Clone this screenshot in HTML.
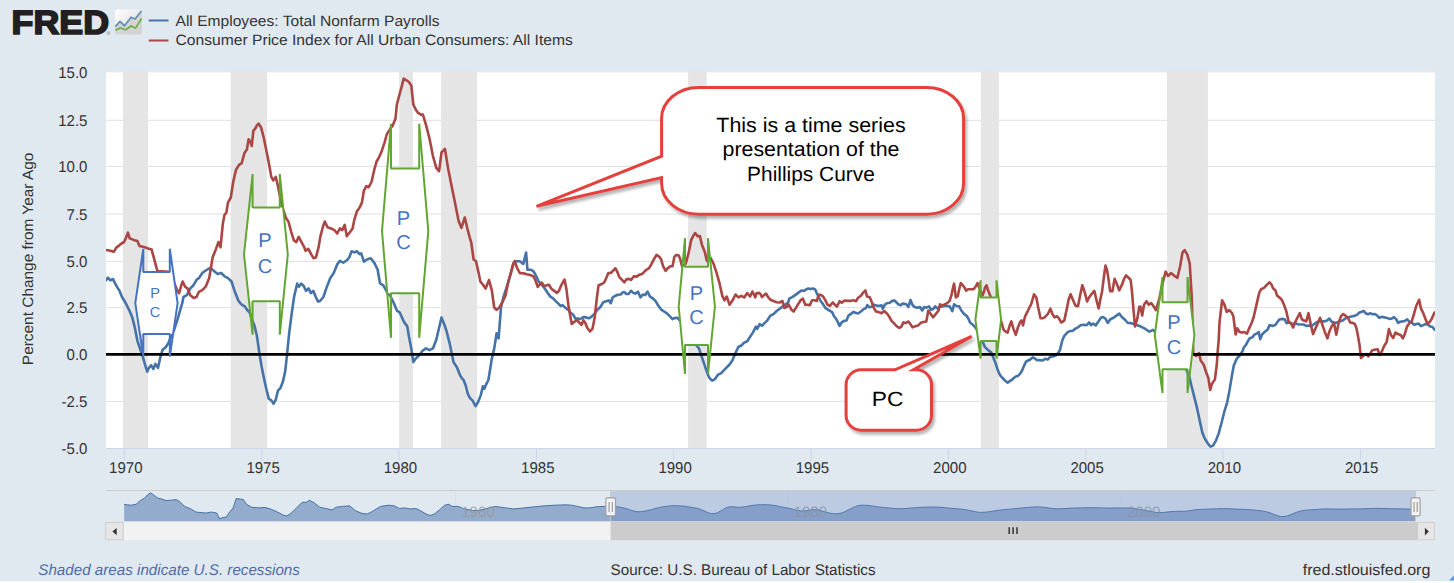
<!DOCTYPE html>
<html><head><meta charset="utf-8"><title>FRED graph</title>
<style>
html,body{margin:0;padding:0;background:#e1e9f0;}
body{width:1454px;height:583px;overflow:hidden;}
svg{display:block;}
text{font-family:"Liberation Sans",Arial,sans-serif;text-rendering:geometricPrecision;}
</style></head><body>
<svg width="1454" height="583" viewBox="0 0 1454 583">
<defs>
<clipPath id="plotclip"><rect x="106" y="71" width="1329" height="377"/></clipPath>
<linearGradient id="icong" x1="0" y1="0" x2="1" y2="1">
<stop offset="0" stop-color="#ffffff"/><stop offset="1" stop-color="#d4d4d4"/></linearGradient>
<filter id="shadow" x="-20%" y="-20%" width="140%" height="140%">
<feGaussianBlur in="SourceAlpha" stdDeviation="1.8"/>
<feOffset dx="1.5" dy="2.5" result="ob"/>
<feComponentTransfer><feFuncA type="linear" slope="0.3"/></feComponentTransfer>
<feMerge><feMergeNode/><feMergeNode in="SourceGraphic"/></feMerge>
</filter>
</defs>
<rect x="0" y="0" width="1454" height="583" fill="#e1e9f0"/>

<rect x="106" y="71" width="1329" height="377" fill="#ffffff"/>
<line x1="106" x2="1435" y1="71.8" y2="71.8" stroke="#e0e0e0" stroke-width="1"/>
<line x1="106" x2="1435" y1="120.3" y2="120.3" stroke="#e0e0e0" stroke-width="1"/>
<line x1="106" x2="1435" y1="166.4" y2="166.4" stroke="#e0e0e0" stroke-width="1"/>
<line x1="106" x2="1435" y1="214.0" y2="214.0" stroke="#e0e0e0" stroke-width="1"/>
<line x1="106" x2="1435" y1="261.4" y2="261.4" stroke="#e0e0e0" stroke-width="1"/>
<line x1="106" x2="1435" y1="307.6" y2="307.6" stroke="#e0e0e0" stroke-width="1"/>
<line x1="106" x2="1435" y1="401.4" y2="401.4" stroke="#e0e0e0" stroke-width="1"/>
<rect x="123.0" y="71" width="25.0" height="377" fill="#e5e5e5"/>
<rect x="230.7" y="71" width="36.3" height="377" fill="#e5e5e5"/>
<rect x="399.2" y="71" width="13.7" height="377" fill="#e5e5e5"/>
<rect x="441.0" y="71" width="36.0" height="377" fill="#e5e5e5"/>
<rect x="688.1" y="71" width="18.7" height="377" fill="#e5e5e5"/>
<rect x="981.0" y="71" width="18.0" height="377" fill="#e5e5e5"/>
<rect x="1167.0" y="71" width="40.9" height="377" fill="#e5e5e5"/>
<line x1="106" x2="1435" y1="448.5" y2="448.5" stroke="#ccd6eb" stroke-width="1"/>
<line x1="124.5" x2="124.5" y1="448" y2="460.6" stroke="#ccd6eb" stroke-width="1"/>
<line x1="261.8" x2="261.8" y1="448" y2="460.6" stroke="#ccd6eb" stroke-width="1"/>
<line x1="399.1" x2="399.1" y1="448" y2="460.6" stroke="#ccd6eb" stroke-width="1"/>
<line x1="536.5" x2="536.5" y1="448" y2="460.6" stroke="#ccd6eb" stroke-width="1"/>
<line x1="673.8" x2="673.8" y1="448" y2="460.6" stroke="#ccd6eb" stroke-width="1"/>
<line x1="811.1" x2="811.1" y1="448" y2="460.6" stroke="#ccd6eb" stroke-width="1"/>
<line x1="948.5" x2="948.5" y1="448" y2="460.6" stroke="#ccd6eb" stroke-width="1"/>
<line x1="1085.8" x2="1085.8" y1="448" y2="460.6" stroke="#ccd6eb" stroke-width="1"/>
<line x1="1223.1" x2="1223.1" y1="448" y2="460.6" stroke="#ccd6eb" stroke-width="1"/>
<line x1="1360.4" x2="1360.4" y1="448" y2="460.6" stroke="#ccd6eb" stroke-width="1"/>
<g clip-path="url(#plotclip)" fill="none" stroke-width="2.6" stroke-linejoin="round" stroke-linecap="round">
<polyline points="106.0,280.3 107.9,277.7 110.4,280.3 113.0,279.0 114.8,282.9 116.9,286.7 119.4,290.6 122.0,297.0 125.9,303.5 129.7,311.2 132.3,317.6 134.9,327.9 137.4,340.8 140.0,348.5 142.6,356.2 145.2,365.2 147.2,371.6 149.0,367.8 151.1,365.2 153.4,369.0 155.4,363.9 158.0,367.8 160.6,356.2 162.6,349.8 165.7,347.2 168.3,343.3 170.4,338.2 174.0,330.0 177.3,320.2 179.9,311.2 182.5,302.2 183.4,297.0 186.9,295.2 190.3,288.4 193.7,285.0 196.5,279.8 198.9,278.1 202.3,273.0 205.7,270.5 210.2,267.8 214.3,271.2 217.7,274.0 221.2,273.0 224.6,276.4 228.0,278.1 231.5,281.5 234.9,291.8 238.3,300.4 240.0,302.8 242.4,305.2 244.8,306.4 247.2,310.0 249.6,312.4 252.0,319.6 254.4,325.6 256.8,335.3 259.2,352.1 261.6,366.5 264.0,378.5 266.4,389.3 268.8,398.9 271.2,400.1 273.6,403.7 275.6,400.1 278.0,390.5 280.4,388.1 282.8,382.1 285.2,371.3 286.8,356.9 289.2,332.9 291.7,313.6 294.1,296.8 297.2,283.6 298.9,286.7 301.3,283.6 303.7,286.0 306.1,290.8 308.5,288.4 310.9,293.2 313.3,290.8 315.7,296.8 318.1,301.6 320.0,301.0 323.4,297.0 326.9,286.7 330.3,278.1 333.7,273.0 337.2,264.4 339.9,260.9 343.3,262.7 346.8,260.3 349.2,257.5 351.6,251.3 354.3,252.4 357.0,251.3 359.5,254.1 361.2,253.4 363.9,261.6 367.3,259.2 370.8,258.2 374.2,262.7 377.6,269.5 380.0,283.2 383.5,285.6 386.9,291.8 390.3,296.0 394.1,303.8 396.9,310.6 399.6,312.3 402.0,317.5 404.4,322.6 407.2,326.1 408.9,336.3 411.3,348.4 413.3,362.1 415.7,358.6 419.2,355.2 422.6,350.8 426.0,348.4 429.5,350.1 432.9,348.4 436.3,339.8 438.7,329.5 441.5,317.5 444.2,324.3 446.6,331.2 450.0,344.9 453.5,362.1 456.9,367.2 460.3,375.8 462.7,379.2 463.6,380.0 465.7,385.5 467.8,393.7 469.8,397.8 472.6,400.6 475.6,406.1 478.1,402.0 480.8,395.1 482.9,386.2 484.2,388.9 486.3,384.1 488.4,380.0 491.8,358.9 494.2,348.6 496.6,333.2 498.6,338.4 501.0,307.5 503.4,297.2 506.2,288.6 508.9,280.0 511.3,271.5 513.7,262.9 516.5,261.2 519.9,261.2 523.3,263.9 526.1,252.6 527.4,269.7 530.9,269.7 533.6,271.5 536.4,276.6 538.8,281.7 542.2,285.2 544.9,288.6 547.5,292.8 550.4,296.6 553.2,298.5 556.0,301.3 558.9,304.2 560.8,306.0 562.6,305.1 565.5,307.9 568.3,309.8 570.2,312.6 573.0,314.5 575.8,319.2 577.7,318.3 579.6,319.2 581.5,318.3 583.8,317.0 586.2,317.4 589.1,318.3 591.9,316.4 594.7,313.6 597.5,309.8 600.4,307.0 603.2,302.3 606.0,301.3 608.9,300.4 610.8,303.2 612.6,297.5 615.5,295.7 617.7,294.7 620.7,294.5 622.5,292.6 624.4,292.1 626.3,294.0 628.6,294.0 631.0,290.8 632.9,292.6 635.4,293.6 638.0,291.7 640.5,297.4 642.9,294.5 645.2,295.1 647.5,291.7 649.9,296.4 652.7,298.3 655.6,301.1 658.4,305.8 661.2,309.6 664.1,311.5 666.9,313.4 669.7,316.2 672.5,319.1 674.4,318.1 677.3,317.7 681.0,322.0 686.0,330.0 692.0,340.0 699.0,348.5 701.0,354.3 703.9,363.1 706.9,371.8 709.2,377.7 712.1,380.6 715.0,379.1 718.0,374.7 720.9,373.3 723.8,370.4 726.7,367.4 729.6,364.5 732.6,360.1 735.5,352.8 738.4,347.0 741.3,345.5 744.2,342.6 747.2,341.2 750.1,336.8 753.0,332.4 755.9,326.6 757.3,328.8 759.6,324.1 761.9,325.7 764.3,323.4 767.4,320.3 770.4,315.6 773.5,314.1 776.6,311.0 779.7,308.7 782.8,306.4 785.9,304.1 788.2,302.5 789.3,298.6 792.1,297.1 795.2,295.1 798.2,292.9 801.3,290.5 804.1,290.9 806.0,289.4 808.3,288.6 810.6,289.1 812.9,288.6 815.2,289.4 816.8,293.2 818.3,296.3 820.6,301.0 823.0,304.1 825.3,307.9 827.6,309.5 830.0,310.8 832.1,312.1 834.1,316.3 836.2,319.0 838.0,322.4 839.6,325.9 841.7,322.4 843.7,321.1 846.5,320.4 848.5,315.6 850.6,314.2 853.3,311.9 855.4,312.8 858.1,313.5 860.9,311.5 863.6,309.1 865.7,308.3 867.3,305.0 869.1,307.3 871.9,306.7 873.9,304.6 876.7,305.6 879.4,306.0 881.5,305.3 882.8,308.7 884.9,304.6 886.9,303.2 889.7,302.8 892.4,300.9 894.5,300.5 896.6,302.5 898.6,304.6 900.7,305.3 902.7,303.6 904.8,303.9 906.4,304.3 908.4,307.0 910.5,299.9 912.5,305.0 914.6,307.0 917.4,307.7 920.1,307.0 922.2,310.5 924.2,307.0 926.3,307.7 929.0,306.4 931.1,309.8 933.1,309.1 935.2,306.4 937.2,308.4 939.3,307.0 942.1,306.4 944.8,306.0 947.5,306.0 949.6,306.4 951.0,308.4 952.3,311.2 954.1,304.3 956.5,306.0 959.2,306.4 961.3,310.5 964.0,313.9 966.8,316.0 968.8,319.4 970.2,322.8 972.2,324.2 974.3,326.3 976.4,329.0 980.0,336.0 985.0,347.1 988.1,350.2 991.2,352.3 993.2,357.4 995.3,362.5 997.3,368.7 999.4,373.9 1001.5,376.9 1003.5,379.0 1005.6,381.1 1007.6,382.7 1009.7,381.1 1011.7,380.0 1013.8,378.0 1015.8,376.5 1017.9,375.9 1020.0,373.9 1022.0,370.8 1024.1,365.6 1026.1,361.5 1028.2,360.5 1030.2,359.5 1032.7,357.4 1034.8,358.4 1036.8,360.1 1039.5,360.1 1042.6,360.5 1045.1,358.8 1047.7,359.5 1050.4,356.8 1052.9,356.4 1056.0,355.3 1058.6,352.3 1060.0,350.0 1062.1,341.0 1064.3,335.8 1067.7,332.1 1070.3,331.0 1072.9,330.7 1075.5,328.6 1078.0,327.3 1080.6,325.2 1083.2,324.7 1086.6,325.2 1089.2,322.4 1090.9,325.2 1093.0,323.5 1095.7,325.5 1098.1,322.1 1100.9,317.8 1102.9,317.0 1105.5,318.7 1107.7,323.0 1110.1,319.5 1113.2,317.8 1115.8,316.1 1119.2,313.5 1121.8,317.0 1125.2,320.0 1127.8,323.0 1130.4,323.0 1133.0,323.8 1135.5,324.7 1140.4,326.3 1145.8,329.2 1149.4,331.7 1153.0,329.9 1155.9,332.8 1165.0,340.0 1175.0,350.0 1183.0,362.0 1189.4,376.8 1191.3,385.3 1194.2,396.6 1197.0,407.9 1199.8,421.1 1202.3,432.5 1204.5,438.1 1207.4,442.8 1210.2,446.6 1213.0,445.7 1215.8,440.9 1218.7,433.4 1221.5,423.0 1224.3,411.7 1227.2,402.3 1229.4,390.9 1231.9,375.8 1233.8,365.5 1236.6,358.9 1240.0,355.1 1242.3,351.5 1244.2,346.8 1246.0,344.9 1247.9,341.1 1249.8,338.3 1252.3,337.4 1254.5,334.5 1256.8,333.6 1258.7,332.1 1260.2,339.2 1262.1,334.5 1264.9,331.7 1267.7,329.4 1269.6,325.1 1272.5,326.0 1275.3,325.1 1277.2,322.3 1279.4,319.4 1281.9,318.9 1284.7,319.4 1286.6,323.2 1289.4,322.3 1292.3,324.2 1295.1,323.2 1297.9,324.2 1300.8,324.5 1303.9,324.5 1306.2,326.0 1308.5,325.6 1310.8,326.3 1313.1,324.8 1315.4,323.2 1317.8,321.7 1320.1,320.9 1322.4,321.4 1324.7,321.4 1327.0,320.5 1329.3,318.6 1331.7,321.7 1334.0,322.5 1336.3,322.9 1338.6,321.7 1340.9,320.9 1343.2,320.2 1345.6,318.3 1347.9,317.4 1350.2,316.8 1352.5,316.3 1354.8,315.8 1357.1,314.7 1359.5,312.4 1361.8,311.7 1363.6,310.9 1365.6,313.2 1368.0,314.3 1370.3,313.2 1372.6,314.3 1374.9,314.0 1377.2,315.5 1379.3,317.9 1381.6,316.8 1384.7,317.4 1387.0,317.9 1389.3,318.9 1391.6,318.6 1394.0,317.1 1396.3,319.4 1398.1,323.0 1400.1,321.7 1402.5,321.4 1404.8,321.0 1407.1,319.4 1409.4,321.7 1411.7,322.5 1414.0,324.8 1416.4,324.0 1418.7,323.6 1421.0,326.1 1423.3,325.1 1425.6,324.0 1428.0,324.8 1430.3,326.4 1432.6,327.1 1434.6,329.8" stroke="#4572a7"/>
<polyline points="106.0,250.0 110.4,250.7 113.8,251.8 116.3,247.6 118.9,245.6 121.5,243.5 124.1,242.0 125.9,237.9 127.9,232.7 129.7,238.4 133.6,239.9 137.4,241.0 139.5,246.1 143.9,247.1 149.0,248.7 151.6,249.4 155.4,263.6 157.5,271.3 162.6,271.3 168.3,271.8 172.0,278.0 175.0,285.0 177.3,290.6 179.1,293.2 181.2,285.5 182.7,281.5 185.1,286.7 187.5,288.4 190.3,295.2 193.7,298.0 196.5,297.0 198.9,291.8 202.3,290.1 205.7,286.7 209.2,278.1 212.6,257.5 216.0,248.9 218.4,242.1 220.5,247.2 222.9,223.2 224.6,214.6 226.3,212.9 228.0,202.6 230.8,197.5 233.2,182.0 235.9,170.0 239.0,164.9 241.7,163.2 244.5,152.9 246.9,149.5 248.6,139.2 250.7,142.6 251.7,146.0 253.4,130.6 255.1,128.9 256.9,125.4 258.6,123.7 261.0,127.2 263.7,137.4 266.5,151.2 268.9,163.2 271.3,176.9 273.3,180.3 275.7,176.9 277.4,183.8 280.2,197.5 282.6,207.8 286.0,218.1 288.4,221.5 291.2,231.8 293.9,240.4 296.3,242.1 298.7,236.9 301.5,242.1 304.2,247.2 305.6,250.7 308.3,248.9 311.1,254.1 313.5,258.2 315.9,257.5 318.6,247.2 320.3,236.9 322.7,227.5 324.8,221.5 327.5,227.3 331.0,228.4 334.4,230.1 337.2,233.5 339.9,228.4 342.3,230.1 344.7,224.9 346.8,236.2 350.2,231.8 352.6,228.4 354.3,219.8 357.0,211.2 359.5,207.8 361.9,202.6 363.9,190.6 366.3,186.2 368.7,187.2 371.5,182.0 374.2,170.0 376.6,161.5 379.0,157.3 381.7,151.2 384.5,142.6 386.9,134.0 390.3,128.9 392.7,125.4 395.5,118.6 396.9,104.3 399.6,94.0 402.0,85.4 403.7,78.6 406.5,80.3 408.9,82.0 411.3,85.4 413.3,104.3 415.7,109.5 418.1,112.9 420.9,114.6 422.9,114.6 426.0,124.9 429.5,138.6 432.9,155.8 436.3,167.8 439.1,171.2 441.5,152.3 444.9,148.9 448.3,169.5 451.7,186.6 455.2,203.8 458.6,220.9 461.4,227.8 464.8,217.5 467.2,227.8 469.9,238.1 471.2,242.3 473.6,259.5 476.0,261.2 478.7,273.2 480.4,281.7 482.8,284.5 485.6,288.6 489.0,280.0 491.8,290.3 494.2,307.5 496.6,309.9 499.3,307.5 502.7,301.6 505.5,295.5 507.9,283.5 510.3,274.9 513.0,264.6 514.7,261.2 517.1,268.0 519.9,273.2 523.3,273.2 526.7,274.2 530.2,274.9 533.6,276.6 535.3,280.0 537.7,286.9 540.5,283.5 541.9,282.5 543.8,286.2 546.6,285.3 549.1,284.9 551.3,288.7 554.2,290.9 557.0,292.8 558.9,290.9 561.7,284.3 564.5,279.6 566.4,289.1 568.3,304.2 570.2,315.5 571.7,324.0 574.0,322.1 576.8,320.2 579.6,323.0 581.5,324.9 583.4,320.2 585.3,323.0 587.2,327.7 590.0,331.5 592.5,328.7 594.7,317.4 596.6,300.4 598.5,285.3 601.3,284.3 604.2,282.5 606.4,277.7 608.3,273.0 610.8,273.0 612.6,271.1 615.5,268.3 617.4,272.1 619.2,276.8 621.6,279.4 624.4,282.3 626.3,279.4 629.2,278.9 631.0,280.0 633.9,276.2 636.7,276.6 639.5,274.7 642.4,273.8 644.2,271.9 646.1,270.0 649.0,268.1 650.8,265.3 653.7,259.6 656.5,254.9 659.3,256.8 661.2,259.6 663.1,266.2 665.6,270.9 667.8,268.1 670.7,266.2 672.5,266.2 674.4,256.8 676.3,254.9 678.8,255.5 680.1,258.7 682.0,266.2 685.8,263.8 688.8,252.1 691.1,240.4 693.1,236.1 695.2,233.1 697.5,236.1 699.9,236.1 701.9,244.8 704.8,252.1 706.9,260.9 710.7,258.0 713.6,263.8 716.5,272.6 719.4,282.8 722.3,295.9 724.4,300.3 726.7,296.5 729.6,304.7 732.6,300.3 735.5,294.5 738.4,297.4 741.3,295.9 744.2,297.4 747.2,293.0 750.1,296.5 752.4,291.5 755.3,297.4 756.5,293.2 758.9,292.9 760.4,294.0 762.0,297.1 764.3,294.8 766.1,293.6 768.1,297.1 770.4,299.7 773.5,301.0 776.6,302.2 779.7,302.5 782.5,301.0 784.3,307.9 786.7,307.1 788.2,304.1 789.7,306.4 791.3,309.5 793.6,311.5 795.9,307.9 798.2,304.1 800.6,300.2 802.9,298.6 805.2,304.8 807.5,304.8 809.8,305.3 812.1,300.2 814.5,300.2 816.8,301.0 818.6,294.8 820.6,294.8 823.0,296.3 825.3,300.2 827.6,304.8 829.9,305.9 832.7,302.5 836.9,306.7 839.6,301.2 841.7,302.8 844.4,300.5 847.8,300.9 851.3,300.9 853.3,300.1 856.1,301.2 858.1,297.7 860.9,295.7 862.9,292.9 865.4,290.5 867.0,296.4 869.8,297.3 871.9,302.5 873.9,308.0 876.0,311.5 878.7,312.1 881.5,313.2 884.2,311.0 886.9,313.5 889.0,316.3 891.7,321.1 894.5,323.8 897.2,326.6 899.3,327.9 901.4,326.6 903.4,322.4 905.5,323.1 908.4,321.5 910.5,324.2 912.5,327.4 915.3,326.3 918.0,325.6 920.8,322.8 923.5,322.1 926.3,321.5 928.3,310.5 930.4,313.6 933.1,317.3 935.9,313.9 938.6,310.5 940.0,304.3 942.1,305.7 944.8,304.3 947.5,302.9 949.6,300.9 951.4,295.4 952.8,288.5 954.1,283.7 955.8,297.4 957.8,296.1 959.2,289.2 960.8,283.0 962.6,285.1 964.7,287.8 966.1,290.6 968.1,289.2 970.9,289.2 973.6,289.2 975.7,286.5 977.5,283.0 979.1,287.2 982.5,295.4 983.9,292.0 985.0,287.5 986.6,285.4 988.1,290.6 992.0,300.0 996.0,310.0 1001.5,322.4 1003.5,329.6 1005.6,331.7 1007.6,332.7 1009.7,325.5 1011.3,321.4 1013.4,328.6 1015.8,334.8 1017.9,327.6 1020.0,322.4 1021.6,320.4 1023.0,325.5 1025.1,316.3 1027.2,312.2 1029.2,308.0 1031.3,303.9 1034.0,294.3 1036.4,297.8 1038.1,307.0 1040.5,318.3 1042.6,318.3 1044.6,317.3 1047.7,314.2 1050.4,308.7 1052.5,314.2 1054.5,317.3 1057.0,316.3 1059.0,318.3 1061.1,322.4 1062.1,322.1 1064.3,320.4 1066.9,308.4 1068.6,299.8 1070.6,294.3 1072.9,299.8 1075.5,305.8 1078.0,306.3 1080.3,294.6 1082.3,285.2 1084.9,292.9 1087.1,301.5 1089.2,297.2 1091.8,293.8 1094.3,290.9 1096.4,299.8 1098.6,308.4 1100.3,299.8 1102.1,291.2 1103.8,277.5 1105.5,265.5 1107.2,270.6 1108.9,281.8 1110.1,291.2 1112.4,291.2 1114.6,278.8 1116.7,283.5 1119.2,290.3 1121.8,285.2 1123.9,279.2 1126.1,275.4 1128.3,277.5 1130.7,280.0 1132.1,292.9 1133.5,310.1 1135.0,326.4 1137.3,318.7 1139.3,306.7 1140.4,306.5 1142.2,315.5 1144.0,304.7 1146.5,301.2 1148.7,304.7 1151.2,303.0 1153.7,306.5 1155.9,310.1 1159.0,300.0 1163.1,281.4 1165.6,271.7 1168.1,276.0 1171.0,273.1 1174.6,276.0 1177.4,277.8 1180.0,267.0 1182.5,252.6 1184.6,250.1 1187.2,254.4 1189.7,263.4 1191.8,297.6 1193.2,353.2 1196.0,356.0 1198.9,353.2 1200.8,360.8 1203.6,364.5 1206.4,373.0 1208.3,377.7 1210.2,390.0 1212.1,383.4 1214.9,379.6 1216.8,364.5 1217.7,351.3 1218.7,340.0 1219.5,322.7 1222.1,300.4 1224.2,304.0 1226.7,311.9 1229.2,310.1 1231.9,312.8 1233.4,316.6 1234.7,327.0 1235.7,334.5 1237.2,328.3 1239.4,331.7 1241.7,332.6 1244.2,332.1 1247.0,333.6 1248.9,328.9 1251.1,324.2 1253.6,317.5 1255.5,309.1 1257.4,300.6 1259.2,293.0 1261.1,289.2 1264.0,287.9 1266.8,284.9 1269.6,282.3 1271.5,284.5 1273.0,288.3 1275.3,290.2 1277.2,295.8 1279.4,297.4 1281.9,300.0 1283.8,304.3 1286.2,310.9 1288.5,321.3 1290.8,323.2 1293.2,327.5 1295.1,322.3 1297.5,317.5 1299.8,313.2 1301.9,319.4 1303.9,320.5 1306.2,321.4 1308.5,313.2 1310.8,324.8 1313.1,334.1 1315.4,328.6 1317.8,323.2 1320.1,317.8 1322.4,324.8 1324.7,331.7 1327.5,338.4 1329.3,331.7 1331.7,326.3 1334.0,322.9 1336.3,334.8 1338.6,323.2 1340.9,316.3 1343.2,314.0 1345.6,315.8 1347.9,317.8 1350.2,322.5 1352.5,322.9 1354.8,324.0 1356.4,327.9 1357.9,335.6 1359.5,344.9 1361.0,358.0 1362.5,356.4 1364.6,354.9 1366.4,354.1 1368.3,356.4 1370.3,353.4 1372.3,350.3 1374.6,349.8 1377.7,349.2 1379.6,355.0 1381.6,351.9 1383.9,346.5 1386.7,341.8 1388.9,329.1 1390.9,334.9 1393.2,338.0 1395.5,332.5 1397.8,334.1 1400.6,334.9 1402.8,338.4 1404.8,334.1 1407.1,326.4 1409.4,323.0 1411.7,321.4 1413.7,314.8 1416.1,306.3 1419.1,299.8 1421.0,308.6 1423.3,313.2 1425.6,319.4 1427.5,323.6 1430.0,321.7 1431.8,318.6 1434.5,312.5" stroke="#aa4643"/>
</g>
<line x1="106" x2="1435" y1="354.4" y2="354.4" stroke="#000000" stroke-width="2.6"/>
<path d="M139.9,272 L173.1,272 L177.6,303.2 L173.1,334 L139.9,334 L135.3,303.2 Z" fill="#ffffff"/><path d="M143.3,248.8 L143.3,272 L169.8,272 L169.8,248.8 L177.6,303.2 L169.8,356.5 L169.8,334 L143.3,334 L143.3,356.5 L135.3,303.2 Z" fill="none" stroke="#4472c4" stroke-width="2" stroke-linejoin="miter" stroke-miterlimit="1"/>
<path d="M249.0,207.6 L283.1,207.6 L287.8,254.5 L283.1,301.3 L249.0,301.3 L244.0,254.5 Z" fill="#ffffff"/><path d="M252.6,174 L252.6,207.6 L279.8,207.6 L279.8,174 L287.8,254.5 L279.8,334.7 L279.8,301.3 L252.6,301.3 L252.6,334.7 L244.0,254.5 Z" fill="none" stroke="#62a632" stroke-width="2" stroke-linejoin="miter" stroke-miterlimit="1"/>
<path d="M387.3,168.4 L423.0,168.4 L428.3,231.0 L423.0,293.2 L387.2,293.2 L382.0,231.0 Z" fill="#ffffff"/><path d="M391.0,123.8 L391.0,168.4 L419.2,168.4 L419.2,123.8 L428.3,231.0 L419.2,337.8 L419.2,293.2 L391.0,293.2 L391.0,337.8 L382.0,231.0 Z" fill="none" stroke="#62a632" stroke-width="2" stroke-linejoin="miter" stroke-miterlimit="1"/>
<path d="M682.4,266.7 L710.9,266.7 L714.9,306.5 L711.0,345.1 L682.3,345.1 L678.7,306.5 Z" fill="#ffffff"/><path d="M685.0,238.2 L685.0,266.7 L708.0,266.7 L708.0,238.2 L714.9,306.5 L708.0,374.0 L708.0,345.1 L685.0,345.1 L685.0,374.0 L678.7,306.5 Z" fill="none" stroke="#62a632" stroke-width="2" stroke-linejoin="miter" stroke-miterlimit="1"/>
<path d="M978.3,297.4 L998.5,297.4 L1001.1,319.7 L998.6,341.1 L978.3,341.1 L975.4,319.7 Z" fill="#ffffff"/><path d="M980.6,280.3 L980.6,297.4 L996.5,297.4 L996.5,280.3 L1001.1,319.7 L996.5,358.6 L996.5,341.1 L980.6,341.1 L980.6,358.6 L975.4,319.7 Z" fill="none" stroke="#62a632" stroke-width="2" stroke-linejoin="miter" stroke-miterlimit="1"/>
<path d="M1159.1,302.3 L1190.5,302.3 L1194.4,335.0 L1190.3,369.2 L1159.3,369.2 L1154.8,335.0 Z" fill="#ffffff"/><path d="M1162.5,277.0 L1162.5,302.3 L1187.5,302.3 L1187.5,277.0 L1194.4,335.0 L1187.5,393.0 L1187.5,369.2 L1162.5,369.2 L1162.5,393.0 L1154.8,335.0 Z" fill="none" stroke="#62a632" stroke-width="2" stroke-linejoin="miter" stroke-miterlimit="1"/>
<text x="155.0" y="298.2" font-size="14.5" fill="#4472c4" text-anchor="middle">P</text><text x="155.0" y="317.0" font-size="14.5" fill="#4472c4" text-anchor="middle">C</text>
<text x="265.0" y="247.0" font-size="20" fill="#4472c4" text-anchor="middle">P</text><text x="265.0" y="272.5" font-size="20" fill="#4472c4" text-anchor="middle">C</text>
<text x="403.5" y="224.5" font-size="20" fill="#4472c4" text-anchor="middle">P</text><text x="403.5" y="249.4" font-size="20" fill="#4472c4" text-anchor="middle">C</text>
<text x="696.5" y="299.6" font-size="20" fill="#4472c4" text-anchor="middle">P</text><text x="696.5" y="324.3" font-size="20" fill="#4472c4" text-anchor="middle">C</text>
<text x="1174.0" y="328.5" font-size="20" fill="#4472c4" text-anchor="middle">P</text><text x="1174.0" y="353.5" font-size="20" fill="#4472c4" text-anchor="middle">C</text>
<path d="M698.6,87.4 L926.6,87.4 A37,31 0 0 1 963.6,118.4 L963.6,183.3 A37,31 0 0 1 926.6,214.3 L698.6,214.3 A37,31 0 0 1 661.6,183.3 L661.6,177.6 L536.5,206.3 L661.6,156.2 L661.6,118.4 A37,31 0 0 1 698.6,87.4 Z" fill="#ffffff" stroke="#e4403c" stroke-width="3" stroke-linejoin="miter" filter="url(#shadow)"/><text x="811.0" y="131.6" font-size="20.6" fill="#000" text-anchor="middle" textLength="189.3" lengthAdjust="spacingAndGlyphs">This is a time series</text><text x="811.0" y="155.9" font-size="20.6" fill="#000" text-anchor="middle" textLength="176.9" lengthAdjust="spacingAndGlyphs">presentation of the</text><text x="811.0" y="180.6" font-size="20.6" fill="#000" text-anchor="middle" textLength="127.8" lengthAdjust="spacingAndGlyphs">Phillips Curve</text>
<path d="M861.1,369.8 L894.9,369.8 L971.7,336.5 L913.4,369.8 L916.5,369.8 A15,15 0 0 1 931.5,384.8 L931.5,415.2 A15,15 0 0 1 916.5,430.2 L861.1,430.2 A15,15 0 0 1 846.1,415.2 L846.1,384.8 A15,15 0 0 1 861.1,369.8 Z" fill="#ffffff" stroke="#e4403c" stroke-width="3" stroke-linejoin="miter" filter="url(#shadow)"/><text x="887.6" y="405.5" font-size="20.6" fill="#000" text-anchor="middle" textLength="31.6" lengthAdjust="spacingAndGlyphs">PC</text>
<text transform="translate(87.4,77.8) scale(0.9615,1)" font-size="15.6" fill="#333333" text-anchor="end">15.0</text>
<text transform="translate(87.4,125.8) scale(0.9615,1)" font-size="15.6" fill="#333333" text-anchor="end">12.5</text>
<text transform="translate(87.4,171.9) scale(0.9615,1)" font-size="15.6" fill="#333333" text-anchor="end">10.0</text>
<text transform="translate(87.4,219.5) scale(0.9615,1)" font-size="15.6" fill="#333333" text-anchor="end">7.5</text>
<text transform="translate(87.4,266.9) scale(0.9615,1)" font-size="15.6" fill="#333333" text-anchor="end">5.0</text>
<text transform="translate(87.4,313.1) scale(0.9615,1)" font-size="15.6" fill="#333333" text-anchor="end">2.5</text>
<text transform="translate(87.4,359.9) scale(0.9615,1)" font-size="15.6" fill="#333333" text-anchor="end">0.0</text>
<text transform="translate(87.4,406.9) scale(0.9615,1)" font-size="15.6" fill="#333333" text-anchor="end">-2.5</text>
<text transform="translate(87.4,453.8) scale(0.9615,1)" font-size="15.6" fill="#333333" text-anchor="end">-5.0</text>
<text transform="translate(33.2,258.9) rotate(-90)" x="0" y="0" font-size="15" fill="#333333" text-anchor="middle" textLength="212.5" lengthAdjust="spacingAndGlyphs">Percent Change from Year Ago</text>
<text transform="translate(125.8,473) scale(0.9615,1)" font-size="15.6" fill="#333333" text-anchor="middle">1970</text>
<text transform="translate(263.1,473) scale(0.9615,1)" font-size="15.6" fill="#333333" text-anchor="middle">1975</text>
<text transform="translate(400.4,473) scale(0.9615,1)" font-size="15.6" fill="#333333" text-anchor="middle">1980</text>
<text transform="translate(537.8,473) scale(0.9615,1)" font-size="15.6" fill="#333333" text-anchor="middle">1985</text>
<text transform="translate(675.1,473) scale(0.9615,1)" font-size="15.6" fill="#333333" text-anchor="middle">1990</text>
<text transform="translate(812.4,473) scale(0.9615,1)" font-size="15.6" fill="#333333" text-anchor="middle">1995</text>
<text transform="translate(949.8,473) scale(0.9615,1)" font-size="15.6" fill="#333333" text-anchor="middle">2000</text>
<text transform="translate(1087.1,473) scale(0.9615,1)" font-size="15.6" fill="#333333" text-anchor="middle">2005</text>
<text transform="translate(1224.4,473) scale(0.9615,1)" font-size="15.6" fill="#333333" text-anchor="middle">2010</text>
<text transform="translate(1361.7,473) scale(0.9615,1)" font-size="15.6" fill="#333333" text-anchor="middle">2015</text>
<text x="11.6" y="33.8" font-size="33.6" font-weight="bold" fill="#231f20" stroke="#231f20" stroke-width="1.7" textLength="97.5" lengthAdjust="spacingAndGlyphs" font-family="Liberation Sans, Arial, sans-serif">FRED</text>
<text x="106.4" y="35" font-size="5.6" fill="#8a8a8a" font-family="Liberation Sans, Arial, sans-serif">®</text>
<rect x="115.2" y="9.5" width="26.7" height="24.9" rx="2.5" fill="url(#icong)"/>
<path d="M115.2,26.6 L120,21.5 L124.5,25.7 L131.1,17.3 L135,19.1 L141.3,11 L141.9,11 L141.9,31.9 Q141.9,34.4 139.4,34.4 L117.7,34.4 Q115.2,34.4 115.2,31.9 Z" fill="#d2d2d2" opacity="0.9"/>
<polyline points="115.4,26.6 120,21.5 124.5,25.7 131.1,17.3 135,19.1 141.5,11" fill="none" stroke="#5b8db5" stroke-width="1.6"/>
<polyline points="115.4,30.2 120.6,27.8 125.4,29.9 131.1,26 135.6,28.1 141.6,18.5" fill="none" stroke="#6aaa3c" stroke-width="1.6"/>
<line x1="148.7" x2="168.5" y1="20.5" y2="20.5" stroke="#4572a7" stroke-width="2"/>
<line x1="148.7" x2="168.5" y1="40.5" y2="40.5" stroke="#aa4643" stroke-width="2"/>
<text x="175.5" y="25.9" font-size="15" fill="#333333" textLength="264" lengthAdjust="spacingAndGlyphs">All Employees: Total Nonfarm Payrolls</text>
<text x="175.5" y="45.4" font-size="15" fill="#333333" textLength="397.3" lengthAdjust="spacingAndGlyphs">Consumer Price Index for All Urban Consumers: All Items</text>
<line x1="106" x2="1435" y1="490.5" y2="490.5" stroke="#cccccc" stroke-width="1"/>
<line x1="455.6" x2="455.6" y1="491" y2="521" stroke="#d8dde5" stroke-width="1" opacity="0.6"/>
<line x1="787.9" x2="787.9" y1="491" y2="521" stroke="#d8dde5" stroke-width="1" opacity="0.6"/>
<line x1="1121.6" x2="1121.6" y1="491" y2="521" stroke="#d8dde5" stroke-width="1" opacity="0.6"/>
<path d="M124.1,521.3 L124.1,504.3 L126.8,504.8 L131.0,505.2 L136.1,504.3 L140.2,500.6 L144.4,498.2 L147.5,494.9 L150.5,492.8 L153.6,494.9 L157.8,498.2 L161.9,499.0 L166.0,500.6 L171.2,500.2 L176.3,499.6 L180.5,502.3 L184.6,506.4 L190.8,508.9 L195.9,512.0 L201.1,512.6 L206.3,513.0 L211.4,512.0 L216.6,513.0 L219.7,518.8 L222.8,517.5 L226.3,517.1 L228.9,513.0 L233.1,507.9 L236.2,498.6 L240.3,499.0 L243.4,499.6 L246.5,504.3 L251.6,507.2 L258.9,507.9 L265.0,507.4 L271.2,509.3 L277.4,512.0 L282.6,514.7 L286.7,516.1 L290.8,513.4 L296.0,508.5 L302.2,502.3 L306.3,502.3 L309.4,500.2 L314.6,503.1 L319.7,507.2 L325.9,508.5 L332.1,509.9 L336.2,507.2 L342.4,506.4 L349.6,505.8 L355.8,510.9 L362.0,513.4 L367.2,514.0 L372.3,511.4 L380.6,506.4 L388.8,505.2 L394.1,505.8 L399.3,508.5 L404.4,507.9 L410.6,508.9 L415.8,508.5 L420.9,510.9 L426.1,514.0 L430.2,515.5 L434.4,514.0 L439.5,509.9 L444.7,505.2 L448.8,504.3 L451.9,506.4 L458.1,506.4 L464.3,508.9 L472.5,510.5 L478.7,510.5 L484.9,508.9 L495.2,506.4 L505.5,507.9 L513.8,508.9 L524.1,507.9 L534.4,506.8 L544.7,505.8 L555.0,505.2 L565.4,504.8 L571.6,505.2 L577.7,506.4 L583.9,507.9 L590.1,507.9 L596.3,506.8 L604.6,506.4 L611.1,506.3 L613.0,506.3 L614.8,506.4 L616.6,506.6 L618.4,506.9 L620.2,507.2 L622.1,507.6 L623.9,508.0 L625.7,508.5 L627.5,509.1 L629.4,509.7 L631.2,510.3 L633.0,510.9 L634.8,511.3 L636.7,511.6 L638.5,511.8 L640.3,511.7 L642.1,511.5 L643.9,511.2 L645.8,510.9 L647.6,510.5 L649.4,510.1 L651.2,509.7 L653.1,509.2 L654.9,508.6 L656.7,508.1 L658.5,507.7 L660.4,507.2 L662.2,506.9 L664.0,506.6 L665.8,506.4 L667.7,506.1 L669.5,505.9 L671.3,505.8 L673.1,505.7 L674.9,505.7 L676.8,505.7 L678.6,505.8 L680.4,505.9 L682.2,506.0 L684.1,506.1 L685.9,506.4 L687.7,506.7 L689.5,507.0 L691.4,507.3 L693.2,507.7 L695.0,508.0 L696.8,508.3 L698.7,508.7 L700.5,509.3 L702.3,510.0 L704.1,510.8 L705.9,511.7 L707.8,512.6 L709.6,513.2 L711.4,513.5 L713.2,513.6 L715.1,513.4 L716.9,512.9 L718.7,512.1 L720.5,511.0 L722.4,509.9 L724.2,508.8 L726.0,507.8 L727.8,507.2 L729.6,506.8 L731.5,506.8 L733.3,506.8 L735.1,507.0 L736.9,507.2 L738.8,507.3 L740.6,507.3 L742.4,507.1 L744.2,506.9 L746.1,506.6 L747.9,506.2 L749.7,505.8 L751.5,505.5 L753.4,505.3 L755.2,505.1 L757.0,504.9 L758.8,504.8 L760.6,504.7 L762.5,504.6 L764.3,504.6 L766.1,504.7 L767.9,504.8 L769.8,504.9 L771.6,505.1 L773.4,505.3 L775.2,505.6 L777.1,506.0 L778.9,506.4 L780.7,506.8 L782.5,507.1 L784.3,507.4 L786.2,507.8 L788.0,508.1 L789.8,508.5 L791.6,508.9 L793.5,509.5 L795.3,510.0 L797.1,510.4 L798.9,510.7 L800.8,511.0 L802.6,511.0 L804.4,510.9 L806.2,510.7 L808.1,510.5 L809.9,510.2 L811.7,509.9 L813.5,509.7 L815.3,509.6 L817.2,509.7 L819.0,510.1 L820.8,510.6 L822.6,511.2 L824.5,511.8 L826.3,512.3 L828.1,512.7 L829.9,513.1 L831.8,513.5 L833.6,513.7 L835.4,513.8 L837.2,513.7 L839.1,513.5 L840.9,513.1 L842.7,512.5 L844.5,511.8 L846.3,511.0 L848.2,510.0 L850.0,509.1 L851.8,508.2 L853.6,507.3 L855.5,506.5 L857.3,505.9 L859.1,505.6 L860.9,505.3 L862.8,505.1 L864.6,505.2 L866.4,505.3 L868.2,505.4 L870.0,505.7 L871.9,506.0 L873.7,506.2 L875.5,506.5 L877.3,506.8 L879.2,507.0 L881.0,507.2 L882.8,507.4 L884.6,507.6 L886.5,507.8 L888.3,507.9 L890.1,508.1 L891.9,508.2 L893.8,508.4 L895.6,508.5 L897.4,508.6 L899.2,508.7 L901.0,508.7 L902.9,508.7 L904.7,508.6 L906.5,508.5 L908.3,508.3 L910.2,508.1 L912.0,508.0 L913.8,507.8 L915.6,507.7 L917.5,507.5 L919.3,507.4 L921.1,507.3 L922.9,507.2 L924.8,507.2 L926.6,507.1 L928.4,507.1 L930.2,507.1 L932.0,507.1 L933.9,507.1 L935.7,507.1 L937.5,507.2 L939.3,507.2 L941.2,507.3 L943.0,507.5 L944.8,507.6 L946.6,507.8 L948.5,508.0 L950.3,508.2 L952.1,508.4 L953.9,508.5 L955.7,508.6 L957.6,508.8 L959.4,508.9 L961.2,509.1 L963.0,509.4 L964.9,509.7 L966.7,509.9 L968.5,510.3 L970.3,510.6 L972.2,511.0 L974.0,511.4 L975.8,511.8 L977.6,512.2 L979.5,512.3 L981.3,512.4 L983.1,512.3 L984.9,512.2 L986.7,512.0 L988.6,511.8 L990.4,511.5 L992.2,511.2 L994.0,511.0 L995.9,510.7 L997.7,510.4 L999.5,510.2 L1001.3,510.0 L1003.2,509.8 L1005.0,509.6 L1006.8,509.4 L1008.6,509.2 L1010.5,509.0 L1012.3,508.9 L1014.1,508.7 L1015.9,508.5 L1017.7,508.4 L1019.6,508.2 L1021.4,508.0 L1023.2,507.9 L1025.0,507.7 L1026.9,507.5 L1028.7,507.4 L1030.5,507.2 L1032.3,507.1 L1034.2,507.0 L1036.0,506.9 L1037.8,506.9 L1039.6,506.9 L1041.4,507.1 L1043.3,507.2 L1045.1,507.5 L1046.9,507.7 L1048.7,508.0 L1050.6,508.2 L1052.4,508.5 L1054.2,508.6 L1056.0,508.8 L1057.9,508.8 L1059.7,508.8 L1061.5,508.7 L1063.3,508.6 L1065.2,508.5 L1067.0,508.4 L1068.8,508.3 L1070.6,508.2 L1072.4,508.1 L1074.3,508.0 L1076.1,508.0 L1077.9,507.9 L1079.7,507.9 L1081.6,507.9 L1083.4,507.8 L1085.2,507.8 L1087.0,507.8 L1088.9,507.7 L1090.7,507.7 L1092.5,507.7 L1094.3,507.8 L1096.2,507.8 L1098.0,507.8 L1099.8,507.9 L1101.6,507.9 L1103.4,507.9 L1105.3,508.0 L1107.1,508.0 L1108.9,508.1 L1110.7,508.1 L1112.6,508.0 L1114.4,508.0 L1116.2,508.0 L1118.0,508.0 L1119.9,508.0 L1121.7,508.0 L1123.5,508.0 L1125.3,508.0 L1127.1,508.0 L1129.0,508.1 L1130.8,508.2 L1132.6,508.4 L1134.4,508.6 L1136.3,508.9 L1138.1,509.2 L1139.9,509.5 L1141.7,509.8 L1143.6,510.1 L1145.4,510.4 L1147.2,510.7 L1149.0,511.1 L1150.9,511.4 L1152.7,511.8 L1154.5,512.1 L1156.3,512.4 L1158.1,512.6 L1160.0,512.6 L1161.8,512.6 L1163.6,512.5 L1165.4,512.3 L1167.3,512.0 L1169.1,511.8 L1170.9,511.6 L1172.7,511.5 L1174.6,511.4 L1176.4,511.3 L1178.2,511.3 L1180.0,511.3 L1181.9,511.3 L1183.7,511.3 L1185.5,511.2 L1187.3,511.0 L1189.1,510.8 L1191.0,510.5 L1192.8,510.2 L1194.6,509.9 L1196.4,509.7 L1198.3,509.5 L1200.1,509.4 L1201.9,509.3 L1203.7,509.2 L1205.6,509.2 L1207.4,509.1 L1209.2,509.1 L1211.0,509.0 L1212.8,508.9 L1214.7,508.9 L1216.5,508.9 L1218.3,508.8 L1220.1,508.7 L1222.0,508.7 L1223.8,508.7 L1225.6,508.6 L1227.4,508.7 L1229.3,508.7 L1231.1,508.8 L1232.9,508.9 L1234.7,509.0 L1236.6,509.1 L1238.4,509.2 L1240.2,509.3 L1242.0,509.3 L1243.8,509.4 L1245.7,509.5 L1247.5,509.6 L1249.3,509.7 L1251.1,509.8 L1253.0,510.0 L1254.8,510.1 L1256.6,510.3 L1258.4,510.5 L1260.3,510.7 L1262.1,511.0 L1263.9,511.3 L1265.7,511.6 L1267.6,512.1 L1269.4,512.6 L1271.2,513.3 L1273.0,514.0 L1274.8,514.7 L1276.7,515.4 L1278.5,516.0 L1280.3,516.4 L1282.1,516.6 L1284.0,516.5 L1285.8,516.2 L1287.6,515.8 L1289.4,515.2 L1291.3,514.4 L1293.1,513.6 L1294.9,512.9 L1296.7,512.2 L1298.5,511.6 L1300.4,511.1 L1302.2,510.7 L1304.0,510.4 L1305.8,510.2 L1307.7,510.0 L1309.5,509.9 L1311.3,509.8 L1313.1,509.7 L1315.0,509.5 L1316.8,509.5 L1318.6,509.3 L1320.4,509.1 L1322.3,509.0 L1324.1,509.0 L1325.9,508.9 L1327.7,508.9 L1329.5,508.9 L1331.4,509.0 L1333.2,509.0 L1335.0,509.1 L1336.8,509.1 L1338.7,509.1 L1340.5,509.1 L1342.3,509.1 L1344.1,509.1 L1346.0,509.0 L1347.8,509.0 L1349.6,508.9 L1351.4,508.9 L1353.3,508.9 L1355.1,508.9 L1356.9,508.9 L1358.7,508.9 L1360.5,508.9 L1362.4,508.8 L1364.2,508.8 L1366.0,508.7 L1367.8,508.6 L1369.7,508.5 L1371.5,508.5 L1373.3,508.4 L1375.1,508.4 L1377.0,508.4 L1378.8,508.4 L1380.6,508.5 L1382.4,508.5 L1384.2,508.5 L1386.1,508.6 L1387.9,508.7 L1389.7,508.7 L1391.5,508.7 L1393.4,508.8 L1395.2,508.8 L1397.0,508.8 L1398.8,508.9 L1400.7,508.9 L1402.5,508.9 L1404.3,509.0 L1406.1,509.0 L1408.0,509.1 L1409.8,509.1 L1411.6,509.1 L1413.4,509.2 L1415.2,509.2 L1415.2,521.3 Z" fill="#93abcc" stroke="none"/>
<polyline points="124.1,504.3 126.8,504.8 131.0,505.2 136.1,504.3 140.2,500.6 144.4,498.2 147.5,494.9 150.5,492.8 153.6,494.9 157.8,498.2 161.9,499.0 166.0,500.6 171.2,500.2 176.3,499.6 180.5,502.3 184.6,506.4 190.8,508.9 195.9,512.0 201.1,512.6 206.3,513.0 211.4,512.0 216.6,513.0 219.7,518.8 222.8,517.5 226.3,517.1 228.9,513.0 233.1,507.9 236.2,498.6 240.3,499.0 243.4,499.6 246.5,504.3 251.6,507.2 258.9,507.9 265.0,507.4 271.2,509.3 277.4,512.0 282.6,514.7 286.7,516.1 290.8,513.4 296.0,508.5 302.2,502.3 306.3,502.3 309.4,500.2 314.6,503.1 319.7,507.2 325.9,508.5 332.1,509.9 336.2,507.2 342.4,506.4 349.6,505.8 355.8,510.9 362.0,513.4 367.2,514.0 372.3,511.4 380.6,506.4 388.8,505.2 394.1,505.8 399.3,508.5 404.4,507.9 410.6,508.9 415.8,508.5 420.9,510.9 426.1,514.0 430.2,515.5 434.4,514.0 439.5,509.9 444.7,505.2 448.8,504.3 451.9,506.4 458.1,506.4 464.3,508.9 472.5,510.5 478.7,510.5 484.9,508.9 495.2,506.4 505.5,507.9 513.8,508.9 524.1,507.9 534.4,506.8 544.7,505.8 555.0,505.2 565.4,504.8 571.6,505.2 577.7,506.4 583.9,507.9 590.1,507.9 596.3,506.8 604.6,506.4 611.1,506.3 613.0,506.3 614.8,506.4 616.6,506.6 618.4,506.9 620.2,507.2 622.1,507.6 623.9,508.0 625.7,508.5 627.5,509.1 629.4,509.7 631.2,510.3 633.0,510.9 634.8,511.3 636.7,511.6 638.5,511.8 640.3,511.7 642.1,511.5 643.9,511.2 645.8,510.9 647.6,510.5 649.4,510.1 651.2,509.7 653.1,509.2 654.9,508.6 656.7,508.1 658.5,507.7 660.4,507.2 662.2,506.9 664.0,506.6 665.8,506.4 667.7,506.1 669.5,505.9 671.3,505.8 673.1,505.7 674.9,505.7 676.8,505.7 678.6,505.8 680.4,505.9 682.2,506.0 684.1,506.1 685.9,506.4 687.7,506.7 689.5,507.0 691.4,507.3 693.2,507.7 695.0,508.0 696.8,508.3 698.7,508.7 700.5,509.3 702.3,510.0 704.1,510.8 705.9,511.7 707.8,512.6 709.6,513.2 711.4,513.5 713.2,513.6 715.1,513.4 716.9,512.9 718.7,512.1 720.5,511.0 722.4,509.9 724.2,508.8 726.0,507.8 727.8,507.2 729.6,506.8 731.5,506.8 733.3,506.8 735.1,507.0 736.9,507.2 738.8,507.3 740.6,507.3 742.4,507.1 744.2,506.9 746.1,506.6 747.9,506.2 749.7,505.8 751.5,505.5 753.4,505.3 755.2,505.1 757.0,504.9 758.8,504.8 760.6,504.7 762.5,504.6 764.3,504.6 766.1,504.7 767.9,504.8 769.8,504.9 771.6,505.1 773.4,505.3 775.2,505.6 777.1,506.0 778.9,506.4 780.7,506.8 782.5,507.1 784.3,507.4 786.2,507.8 788.0,508.1 789.8,508.5 791.6,508.9 793.5,509.5 795.3,510.0 797.1,510.4 798.9,510.7 800.8,511.0 802.6,511.0 804.4,510.9 806.2,510.7 808.1,510.5 809.9,510.2 811.7,509.9 813.5,509.7 815.3,509.6 817.2,509.7 819.0,510.1 820.8,510.6 822.6,511.2 824.5,511.8 826.3,512.3 828.1,512.7 829.9,513.1 831.8,513.5 833.6,513.7 835.4,513.8 837.2,513.7 839.1,513.5 840.9,513.1 842.7,512.5 844.5,511.8 846.3,511.0 848.2,510.0 850.0,509.1 851.8,508.2 853.6,507.3 855.5,506.5 857.3,505.9 859.1,505.6 860.9,505.3 862.8,505.1 864.6,505.2 866.4,505.3 868.2,505.4 870.0,505.7 871.9,506.0 873.7,506.2 875.5,506.5 877.3,506.8 879.2,507.0 881.0,507.2 882.8,507.4 884.6,507.6 886.5,507.8 888.3,507.9 890.1,508.1 891.9,508.2 893.8,508.4 895.6,508.5 897.4,508.6 899.2,508.7 901.0,508.7 902.9,508.7 904.7,508.6 906.5,508.5 908.3,508.3 910.2,508.1 912.0,508.0 913.8,507.8 915.6,507.7 917.5,507.5 919.3,507.4 921.1,507.3 922.9,507.2 924.8,507.2 926.6,507.1 928.4,507.1 930.2,507.1 932.0,507.1 933.9,507.1 935.7,507.1 937.5,507.2 939.3,507.2 941.2,507.3 943.0,507.5 944.8,507.6 946.6,507.8 948.5,508.0 950.3,508.2 952.1,508.4 953.9,508.5 955.7,508.6 957.6,508.8 959.4,508.9 961.2,509.1 963.0,509.4 964.9,509.7 966.7,509.9 968.5,510.3 970.3,510.6 972.2,511.0 974.0,511.4 975.8,511.8 977.6,512.2 979.5,512.3 981.3,512.4 983.1,512.3 984.9,512.2 986.7,512.0 988.6,511.8 990.4,511.5 992.2,511.2 994.0,511.0 995.9,510.7 997.7,510.4 999.5,510.2 1001.3,510.0 1003.2,509.8 1005.0,509.6 1006.8,509.4 1008.6,509.2 1010.5,509.0 1012.3,508.9 1014.1,508.7 1015.9,508.5 1017.7,508.4 1019.6,508.2 1021.4,508.0 1023.2,507.9 1025.0,507.7 1026.9,507.5 1028.7,507.4 1030.5,507.2 1032.3,507.1 1034.2,507.0 1036.0,506.9 1037.8,506.9 1039.6,506.9 1041.4,507.1 1043.3,507.2 1045.1,507.5 1046.9,507.7 1048.7,508.0 1050.6,508.2 1052.4,508.5 1054.2,508.6 1056.0,508.8 1057.9,508.8 1059.7,508.8 1061.5,508.7 1063.3,508.6 1065.2,508.5 1067.0,508.4 1068.8,508.3 1070.6,508.2 1072.4,508.1 1074.3,508.0 1076.1,508.0 1077.9,507.9 1079.7,507.9 1081.6,507.9 1083.4,507.8 1085.2,507.8 1087.0,507.8 1088.9,507.7 1090.7,507.7 1092.5,507.7 1094.3,507.8 1096.2,507.8 1098.0,507.8 1099.8,507.9 1101.6,507.9 1103.4,507.9 1105.3,508.0 1107.1,508.0 1108.9,508.1 1110.7,508.1 1112.6,508.0 1114.4,508.0 1116.2,508.0 1118.0,508.0 1119.9,508.0 1121.7,508.0 1123.5,508.0 1125.3,508.0 1127.1,508.0 1129.0,508.1 1130.8,508.2 1132.6,508.4 1134.4,508.6 1136.3,508.9 1138.1,509.2 1139.9,509.5 1141.7,509.8 1143.6,510.1 1145.4,510.4 1147.2,510.7 1149.0,511.1 1150.9,511.4 1152.7,511.8 1154.5,512.1 1156.3,512.4 1158.1,512.6 1160.0,512.6 1161.8,512.6 1163.6,512.5 1165.4,512.3 1167.3,512.0 1169.1,511.8 1170.9,511.6 1172.7,511.5 1174.6,511.4 1176.4,511.3 1178.2,511.3 1180.0,511.3 1181.9,511.3 1183.7,511.3 1185.5,511.2 1187.3,511.0 1189.1,510.8 1191.0,510.5 1192.8,510.2 1194.6,509.9 1196.4,509.7 1198.3,509.5 1200.1,509.4 1201.9,509.3 1203.7,509.2 1205.6,509.2 1207.4,509.1 1209.2,509.1 1211.0,509.0 1212.8,508.9 1214.7,508.9 1216.5,508.9 1218.3,508.8 1220.1,508.7 1222.0,508.7 1223.8,508.7 1225.6,508.6 1227.4,508.7 1229.3,508.7 1231.1,508.8 1232.9,508.9 1234.7,509.0 1236.6,509.1 1238.4,509.2 1240.2,509.3 1242.0,509.3 1243.8,509.4 1245.7,509.5 1247.5,509.6 1249.3,509.7 1251.1,509.8 1253.0,510.0 1254.8,510.1 1256.6,510.3 1258.4,510.5 1260.3,510.7 1262.1,511.0 1263.9,511.3 1265.7,511.6 1267.6,512.1 1269.4,512.6 1271.2,513.3 1273.0,514.0 1274.8,514.7 1276.7,515.4 1278.5,516.0 1280.3,516.4 1282.1,516.6 1284.0,516.5 1285.8,516.2 1287.6,515.8 1289.4,515.2 1291.3,514.4 1293.1,513.6 1294.9,512.9 1296.7,512.2 1298.5,511.6 1300.4,511.1 1302.2,510.7 1304.0,510.4 1305.8,510.2 1307.7,510.0 1309.5,509.9 1311.3,509.8 1313.1,509.7 1315.0,509.5 1316.8,509.5 1318.6,509.3 1320.4,509.1 1322.3,509.0 1324.1,509.0 1325.9,508.9 1327.7,508.9 1329.5,508.9 1331.4,509.0 1333.2,509.0 1335.0,509.1 1336.8,509.1 1338.7,509.1 1340.5,509.1 1342.3,509.1 1344.1,509.1 1346.0,509.0 1347.8,509.0 1349.6,508.9 1351.4,508.9 1353.3,508.9 1355.1,508.9 1356.9,508.9 1358.7,508.9 1360.5,508.9 1362.4,508.8 1364.2,508.8 1366.0,508.7 1367.8,508.6 1369.7,508.5 1371.5,508.5 1373.3,508.4 1375.1,508.4 1377.0,508.4 1378.8,508.4 1380.6,508.5 1382.4,508.5 1384.2,508.5 1386.1,508.6 1387.9,508.7 1389.7,508.7 1391.5,508.7 1393.4,508.8 1395.2,508.8 1397.0,508.8 1398.8,508.9 1400.7,508.9 1402.5,508.9 1404.3,509.0 1406.1,509.0 1408.0,509.1 1409.8,509.1 1411.6,509.1 1413.4,509.2 1415.2,509.2" fill="none" stroke="#4572a7" stroke-width="1"/>
<text x="461.2" y="516.7" font-size="15" fill="#999999" opacity="0.85">1960</text>
<text x="793.7" y="516.7" font-size="15" fill="#999999" opacity="0.85">1980</text>
<text x="1127.1" y="516.7" font-size="15" fill="#999999" opacity="0.85">2000</text>
<rect x="610.3" y="491" width="805.1" height="30.3" fill="rgb(102,133,194)" fill-opacity="0.3"/>
<line x1="610.6" x2="610.6" y1="490.5" y2="521.5" stroke="#c8c8c8" stroke-width="1"/>
<line x1="1415.6" x2="1415.6" y1="490.5" y2="521.5" stroke="#c8c8c8" stroke-width="1"/>
<rect x="605.9" y="497.9" width="9.6" height="17.9" rx="1" fill="#f2f2f2" stroke="#a0a0a0" stroke-width="1.2"/><line x1="609.1" x2="609.1" y1="502" y2="512" stroke="#8c8c8c" stroke-width="1"/><line x1="612.3" x2="612.3" y1="502" y2="512" stroke="#8c8c8c" stroke-width="1"/>
<rect x="1411.0" y="497.9" width="9.1" height="17.9" rx="1" fill="#f2f2f2" stroke="#a0a0a0" stroke-width="1.2"/><line x1="1414.0" x2="1414.0" y1="502" y2="512" stroke="#8c8c8c" stroke-width="1"/><line x1="1417.2" x2="1417.2" y1="502" y2="512" stroke="#8c8c8c" stroke-width="1"/>
<rect x="105.1" y="521.9" width="1329.8" height="18.4" fill="#f2f2f2"/>
<rect x="610.6" y="521.9" width="806.4" height="18.4" fill="#cccccc"/>
<line x1="1009.2" x2="1009.2" y1="527.2" y2="533.9" stroke="#333333" stroke-width="1.5"/>
<line x1="1013.1" x2="1013.1" y1="527.2" y2="533.9" stroke="#333333" stroke-width="1.5"/>
<line x1="1017.0" x2="1017.0" y1="527.2" y2="533.9" stroke="#333333" stroke-width="1.5"/>
<rect x="105.6" y="522.4" width="17.6" height="17.4" fill="#e6e6e6" stroke="#cccccc" stroke-width="1"/>
<path d="M112.4,531.6 L116.7,527.9 L116.7,535.3 Z" fill="#333333"/>
<rect x="1417.5" y="522.4" width="16.9" height="17.4" fill="#e6e6e6" stroke="#cccccc" stroke-width="1"/>
<path d="M1428.8,531.6 L1424.9,527.8 L1424.9,535.4 Z" fill="#333333"/>
<text x="38.3" y="574.8" font-size="15.5" font-style="italic" fill="#4d6da6" textLength="261.6" lengthAdjust="spacingAndGlyphs">Shaded areas indicate U.S. recessions</text>
<text x="610.5" y="575.2" font-size="15.5" fill="#333333" textLength="265.1" lengthAdjust="spacingAndGlyphs">Source: U.S. Bureau of Labor Statistics</text>
<text x="1302.7" y="575.3" font-size="15.5" fill="#333333" textLength="127.7" lengthAdjust="spacingAndGlyphs">fred.stlouisfed.org</text>
<rect x="0" y="581" width="1454" height="2" fill="#ffffff"/>
<path d="M1449,580.5 L1454,575.2 L1454,580.5 Z" fill="#2f7fe6" opacity="0.75"/>
</svg>
</body></html>
